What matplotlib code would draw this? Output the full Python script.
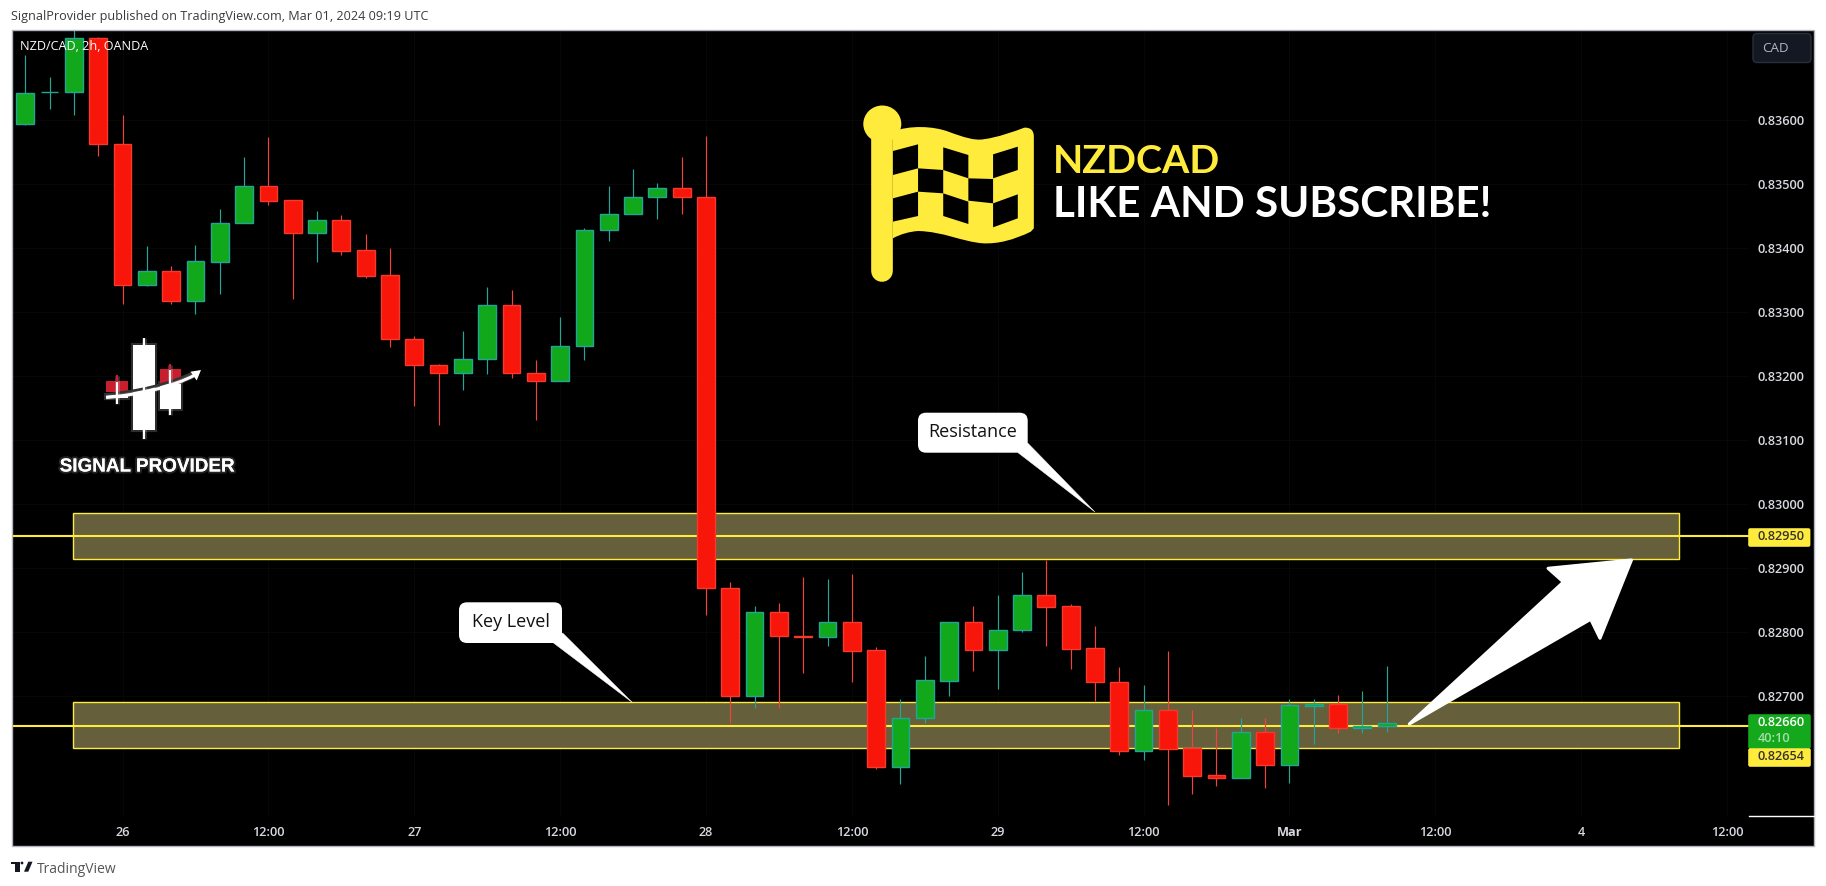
import matplotlib
matplotlib.use("Agg")
import matplotlib.pyplot as plt
import matplotlib.patheffects as pe
from matplotlib.patches import Rectangle, FancyBboxPatch, Polygon, PathPatch, Ellipse
from matplotlib.path import Path

# ---------- data ----------
opens = [.83595,.83644,.83644,.83728,.83563,.83343,.83364,.83317,.83379,.83439,.83498,.83475,.83424,.83444,.83397,.83358,.83259,.83217,.83205,.83227,.83312,.83205,.83192,.83247,.83428,.83453,.83480,.83494,.83480,
         .82870,.82701,.82831,.82795,.82792,.82816,.82772,.82590,.82666,.82724,.82816,.82773,.82803,.82859,.82841,.82775,.82723,.82615,.82678,.82619,.82577,.82573,.82644,.82593,.82685,.82688,.82650,.82653]
highs = [.83702,.83667,.83741,.83730,.83609,.83404,.83372,.83405,.83461,.83542,.83574,.83475,.83458,.83452,.83422,.83400,.83263,.83219,.83271,.83339,.83335,.83226,.83293,.83432,.83497,.83524,.83502,.83543,.83576,
         .82879,.82841,.82846,.82886,.82883,.82891,.82777,.82696,.82763,.82816,.82841,.82858,.82894,.82913,.82844,.82810,.82746,.82718,.82771,.82678,.82650,.82666,.82666,.82696,.82696,.82702,.82708,.82747]
lows = [.83593,.83618,.83608,.83545,.83313,.83341,.83313,.83298,.83328,.83439,.83468,.83321,.83378,.83390,.83354,.83246,.83154,.83124,.83179,.83203,.83198,.83131,.83192,.83226,.83412,.83453,.83446,.83454,.82827,
        .82659,.82682,.82682,.82737,.82779,.82723,.82587,.82563,.82659,.82701,.82740,.82711,.82801,.82779,.82743,.82693,.82608,.82600,.82530,.82547,.82560,.82573,.82557,.82565,.82625,.82643,.82642,.82645]
closes = [.83642,.83644,.83728,.83563,.83343,.83364,.83317,.83380,.83439,.83498,.83474,.83424,.83444,.83396,.83357,.83259,.83217,.83205,.83227,.83312,.83205,.83192,.83247,.83428,.83453,.83480,.83494,.83480,.82870,
          .82701,.82831,.82795,.82792,.82816,.82771,.82590,.82666,.82725,.82816,.82773,.82803,.82859,.82840,.82774,.82723,.82615,.82678,.82618,.82576,.82573,.82644,.82593,.82686,.82688,.82650,.82653,.82659]
time_ticks = [4, 10, 16, 22, 28, 34, 40, 46, 52, 58, 64, 70]
time_labels = ['26', '12:00', '27', '12:00', '28', '12:00', '29', '12:00', 'Mar', '12:00', '4', '12:00']
price_ticks = [.827, .828, .829, .830, .831, .832, .833, .834, .835, .836]
price_labels = ['0.82700', '0.82800', '0.82900', '0.83000', '0.83100', '0.83200', '0.83300', '0.83400', '0.83500', '0.83600']
zones = [(.82914, .82986), (.82619, .82691)]
levels = [.82950, .82654]
zone_start, zone_end = 1.97, 68.01

RED, RED_E, RED_W = '#F8150A', '#F5392C', '#F0443A'
GRN, GRN_E, GRN_W = '#12A81C', '#1FA695', '#22A699'
YEL = '#FFEB3B'
BAND = '#655F3C'
TXT = '#D8DAE0'
W, H = 1826, 886
PL, PR, PT, PB = 11.5, 1749.0, 30.0, 816.0
X0, DX = 25.3, 24.31
P0, DP = 0.83788, 1.5625e-5

fig = plt.figure(figsize=(W / 100, H / 100), dpi=100, facecolor='white')
bg = fig.add_axes([0, 0, 1, 1], zorder=0)
bg.set_xlim(0, W); bg.set_ylim(H, 0); bg.axis('off')
bg.add_patch(Rectangle((PL, PT), 1814.3 - PL, 846 - PT, fc='black', ec='none'))

ax = fig.add_axes([PL / W, 1 - PB / H, (PR - PL) / W, (PB - PT) / H], zorder=1, facecolor='black')
ax.set_xlim((PL - X0) / DX, (PR - X0) / DX)
ax.set_ylim(P0 - PB * DP, P0 - PT * DP)
for s in ax.spines.values():
    s.set_visible(False)
ax.yaxis.tick_right()
ax.set_yticks(price_ticks, price_labels)
ax.set_xticks(time_ticks, time_labels)
ax.tick_params(axis='y', length=0, pad=6.3, labelsize=9.2, labelcolor=TXT)
ax.tick_params(axis='x', length=0, pad=7, labelsize=9.2, labelcolor=TXT)
for lab in ax.get_xticklabels() + ax.get_yticklabels():
    lab.set_family('Open Sans')
    lab.set_fontweight('semibold')
for lab in ax.get_yticklabels():
    lab.set_verticalalignment('center_baseline')
ax.get_xticklabels()[8].set_fontweight('bold')
ax.grid(True, color='#080808', lw=0.7, zorder=0)
ax.set_axisbelow(True)

for (lo, hi) in zones:
    ax.add_patch(Rectangle((zone_start, lo), zone_end - zone_start, hi - lo, fc=BAND, ec=YEL, lw=1.0, zorder=1))
for lv in levels:
    ax.axhline(lv, color=YEL, lw=1.5, zorder=2)

for i, (o, h, l, c) in enumerate(zip(opens, highs, lows, closes)):
    up = c >= o
    ax.vlines(i, l, h, color=GRN_W if up else RED_W, lw=0.85, zorder=3)
    ax.bar(i, abs(c - o), bottom=min(o, c), width=0.73, color=GRN if up else RED,
           edgecolor=GRN_E if up else RED_E, lw=1.0, zorder=4)

ov = fig.add_axes([0, 0, 1, 1], zorder=2, facecolor='none')
ov.set_xlim(0, W); ov.set_ylim(H, 0); ov.axis('off')

# frame
ov.add_patch(Rectangle((PL, PT), 1814.3 - PL, 846 - PT, fc='none', ec='#B2B5BE', lw=1.0))
ov.plot([PR, 1814], [815.5, 815.5], color='white', lw=1.0)

# header / footer text
ov.text(11, 16.5, 'SignalProvider published on TradingView.com, Mar 01, 2024 09:19 UTC',
        family='Open Sans', fontsize=9.1, color='#3A3A3A', va='center', ha='left')
ov.text(20, 46.5, 'NZD/CAD, 2h, OANDA', family='Open Sans', fontsize=9.1, color='white', va='center', ha='left')
ov.text(36.5, 869.5, 'TradingView', family='Open Sans', fontsize=10.0, color='#555555', va='center', ha='left')
ov.add_patch(Polygon([(11, 861.7), (19.5, 861.7), (19.5, 871.7), (15, 871.7), (15, 864.4), (11, 864.4)], fc='#131722', ec='none'))
ov.add_patch(Ellipse((22, 863), 2.8, 2.8, fc='#131722', ec='none'))
ov.add_patch(Polygon([(28.3, 861.7), (32.5, 861.7), (28.3, 871.7), (24, 871.7)], fc='#131722', ec='none'))

# currency button
ov.add_patch(FancyBboxPatch((1755, 35.5), 54, 25, boxstyle='round,pad=2,rounding_size=4', fc='#141823', ec='#2A2E39', lw=1))
ov.text(1762.5, 48, 'CAD', family='Open Sans', fontsize=9.6, color='#B2B5BE', va='center', ha='left')

# price pills
ov.add_patch(FancyBboxPatch((1749, 529), 60.6, 17, boxstyle='round,pad=0.8,rounding_size=2', fc=YEL, ec='none'))
ov.add_patch(FancyBboxPatch((1749, 715), 61, 33, boxstyle='round,pad=0.8,rounding_size=2', fc='#14A81C', ec='none'))
ov.add_patch(FancyBboxPatch((1749, 749), 61, 17, boxstyle='round,pad=0.8,rounding_size=2', fc=YEL, ec='none'))
tx = dict(family='Open Sans', fontsize=9.2, va='center', ha='left', fontweight='semibold')
ov.text(1757.7, 537, '0.82950', color='#333333', **tx)
ov.text(1757.7, 723, '0.82660', color='white', **tx)
ov.text(1757.7, 738, '40:10', color='#A7DDA9', **tx)
ov.text(1757.7, 757, '0.82654', color='#333333', **tx)

# callouts
def callout(x0, y0, x1, y1, tail, text, tx_x, tx_y):
    ov.add_patch(Polygon(tail, fc='white', ec='white', lw=0.3))
    ov.add_patch(FancyBboxPatch((x0 + 8, y0 + 8), x1 - x0 - 16, y1 - y0 - 16,
                                boxstyle='round,pad=8,rounding_size=8', fc='white', ec='none'))
    ov.text(tx_x, tx_y, text, family='Open Sans', fontsize=13, color='#111111', va='center', ha='center')

callout(459, 602.3, 562, 643, [(562.7, 633), (553.5, 643), (632.6, 702.7)], 'Key Level', 511, 622)
callout(918, 412.7, 1027.7, 452.7, [(1027.7, 443), (1018, 452.7), (1095, 512)], 'Resistance', 973, 432)

# big arrow
ov.add_patch(Polygon([(1409.3, 724), (1563.4, 582), (1548, 568.3), (1631.5, 560), (1600, 638.3), (1590.7, 619.3)],
                     fc='white', ec='white', lw=2.2, joinstyle='round'))

# flag
fx = lambda X: 840 + X / 2.306
fy = lambda Y: 90 + Y / 3
def zp(pts):
    return [(fx(a), fy(b)) for a, b in pts]
fl = zp([(122, 125), (160, 105), (215, 108), (250, 125), (285, 142), (310, 152), (330, 148), (365, 142), (400, 125),
         (425, 113), (440, 112), (447, 122), (447, 140), (447, 415), (447, 415), (447, 415), (440, 425), (400, 450),
         (365, 462), (330, 460), (280, 455), (240, 425), (180, 423), (160, 425), (140, 432), (122, 445), (122, 125)])
codes = [Path.MOVETO] + [Path.CURVE4] * 12 + [Path.LINETO] + [Path.CURVE4] * 12 + [Path.LINETO]
ov.add_patch(PathPatch(Path(fl, codes), fc=YEL, ec='none'))
ov.plot([882, 882], [135, 270.5], color=YEL, lw=15.6, solid_capstyle='round')
ov.add_patch(Ellipse((882.3, 124), 38, 37, fc=YEL, ec='none'))
squares = [[(122, 183), (180, 163), (180, 235), (122, 255)],
           [(238, 172), (296, 195), (296, 265), (238, 240)],
           [(353, 193), (410, 170), (410, 240), (353, 265)],
           [(180, 235), (238, 240), (238, 310), (180, 305)],
           [(296, 265), (353, 267), (353, 340), (296, 332)],
           [(122, 325), (180, 305), (180, 378), (122, 395)],
           [(238, 310), (296, 335), (296, 402), (238, 378)],
           [(353, 340), (410, 313), (410, 385), (353, 412)]]
for sq in squares:
    ov.add_patch(Polygon(zp(sq), fc='black', ec='none'))
ttl = dict(family='Lato', fontweight='bold', va='center', ha='left')
ov.text(1053, 161, 'NZDCAD', color=YEL, fontsize=28.4, **ttl)
ov.text(1053, 205, 'LIKE AND SUBSCRIBE!', color='white', fontsize=30.4, **ttl)

# signal provider logo
glow = [pe.withStroke(linewidth=3.5, foreground=(1, 1, 1, 0.18))]
def box(x0, y0, x1, y1, col='white', effect=True):
    p = Rectangle((x0, y0), x1 - x0, y1 - y0, fc=col, ec='none')
    ov.add_patch(p)
    if effect:
        p.set_path_effects([pe.withStroke(linewidth=3, foreground=(1, 1, 1, 0.18))])
for x, a, b in [(144, 338.3, 439), (170.3, 365, 415), (117.3, 376, 404.3)]:
    ov.plot([x, x], [a, b], color='white', lw=1.5, solid_capstyle='butt', path_effects=glow)
box(133, 345, 155, 430)
box(159.7, 383, 181.3, 409.3)
box(159.7, 369.3, 181.3, 384, '#C81E2D', False)
ov.plot([170.3, 170.3], [365, 369.3], color='#C81E2D', lw=1.5)
box(106, 395, 128.3, 398.3)
box(106, 381, 128.3, 391.7, '#C81E2D', False)
ov.plot([117.3, 117.3], [376, 381], color='#C81E2D', lw=1.5)
dark = Path([(106, 394.5), (140, 391), (170, 384), (192, 373)], [Path.MOVETO, Path.CURVE4, Path.CURVE4, Path.CURVE4])
swoosh = Path([(106, 397.5), (140, 394.5), (172, 387), (195, 375)], [Path.MOVETO, Path.CURVE4, Path.CURVE4, Path.CURVE4])
ov.add_patch(PathPatch(dark, fc='none', ec='#333333', lw=2.0))
ov.add_patch(PathPatch(swoosh, fc='none', ec='white', lw=2.2, path_effects=glow))
ov.add_patch(Polygon([(201, 370), (190.5, 371.7), (196.7, 380.5)], fc='white', ec='none'))
ov.text(147, 467, 'SIGNAL PROVIDER', family='Liberation Sans', fontweight='bold', fontsize=13.6,
        color='white', va='center', ha='center',
        path_effects=[pe.withStroke(linewidth=3, foreground=(1, 1, 1, 0.14))])

fig.savefig('out.png', dpi=100, facecolor='white')
